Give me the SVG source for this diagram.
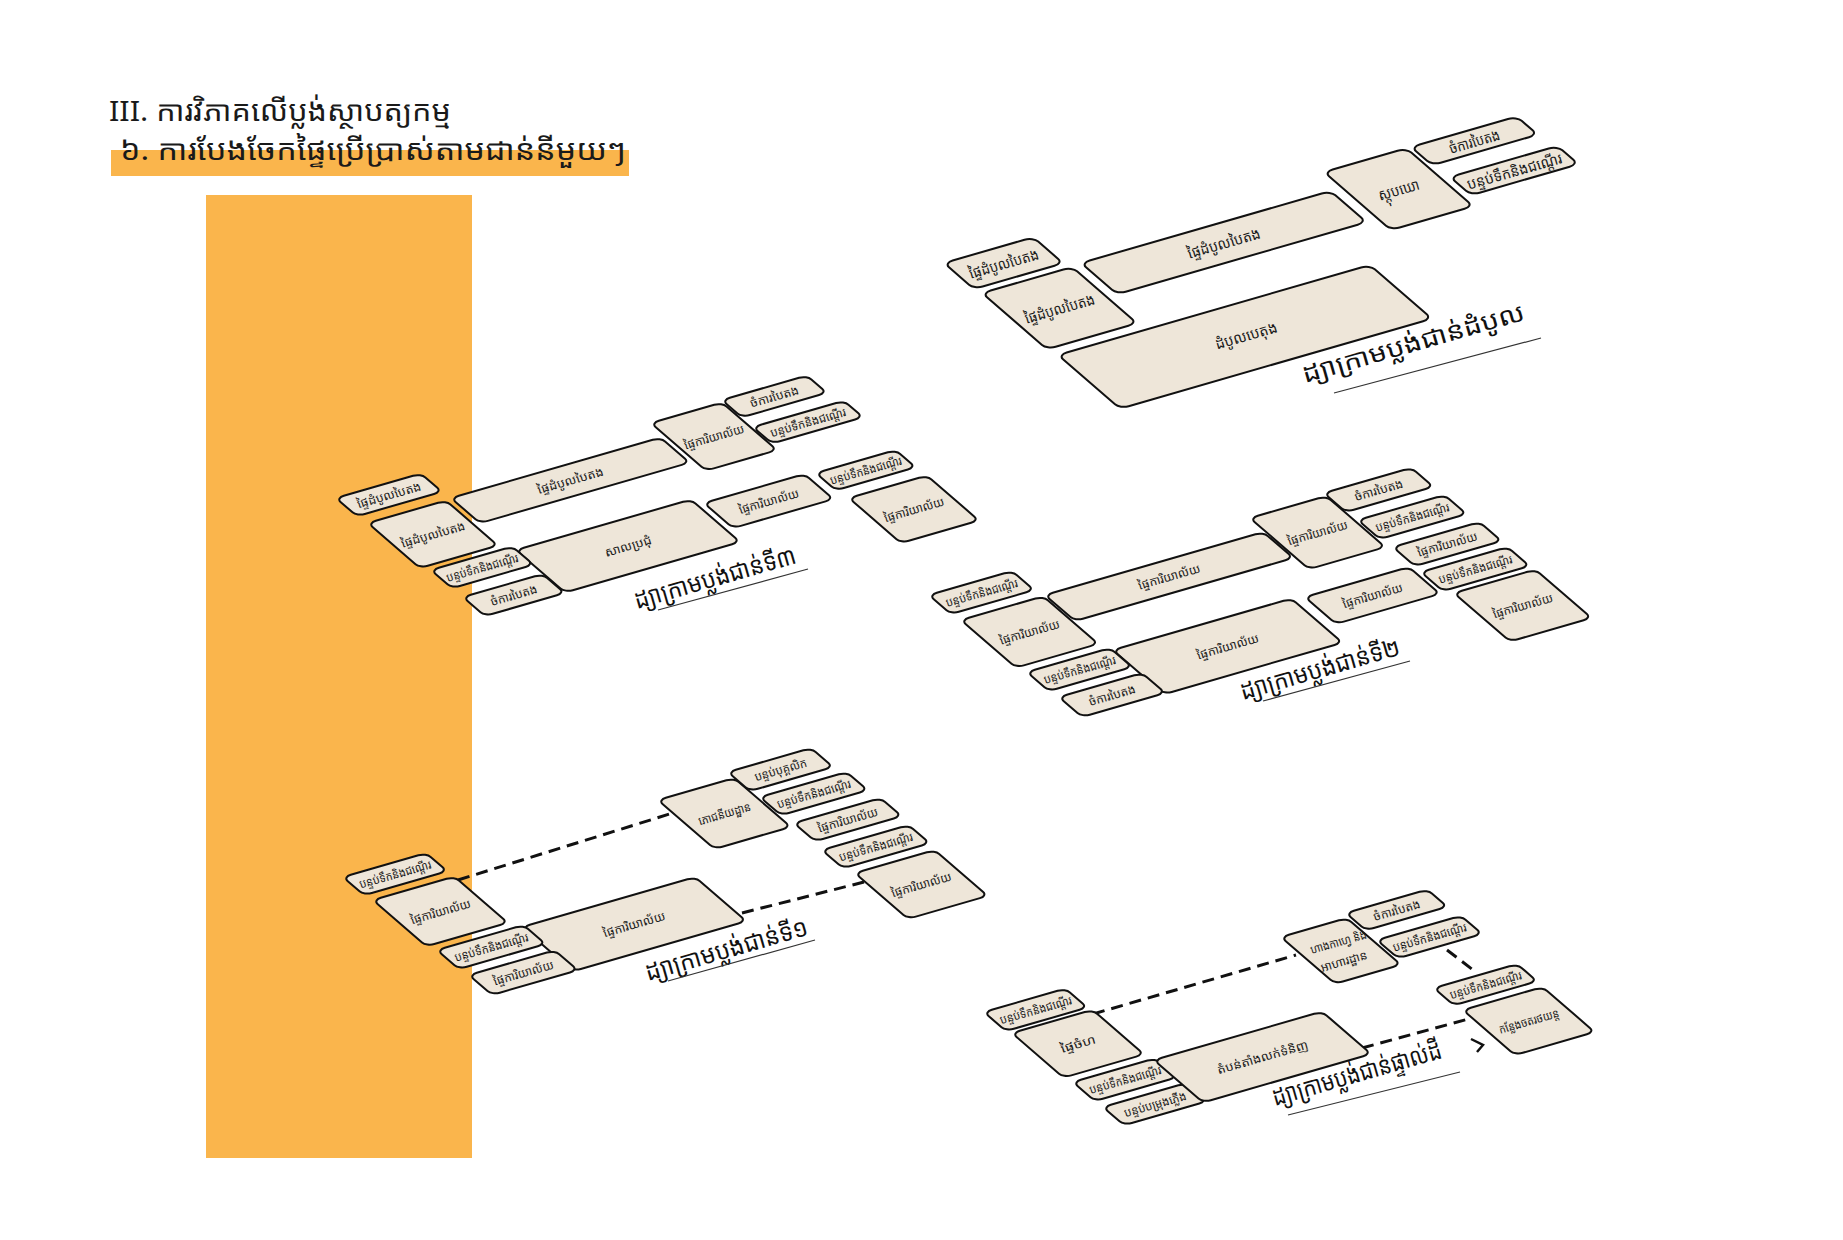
<svg xmlns="http://www.w3.org/2000/svg" width="1843" height="1240" viewBox="0 0 1843 1240">
<style>
.box{fill:#EEE6D9;stroke:#111;stroke-width:2;vector-effect:non-scaling-stroke}
.lbl{font-family:'Noto Sans Khmer','Noto Serif Khmer','Khmer OS Battambang','Khmer OS','Noto Sans',sans-serif;font-size:12px;fill:#1a1a1a;text-anchor:middle;dominant-baseline:central}
.big{font-size:15px}
.flr{font-family:'Noto Sans Khmer','Noto Serif Khmer','Khmer OS Battambang','Khmer OS','Noto Sans',sans-serif;font-size:25px;fill:#111}
.ttl{font-family:'Noto Sans Khmer','Noto Serif Khmer','Khmer OS Battambang','Khmer OS','Noto Sans',sans-serif;font-size:28px;fill:#1a1a1a}
.ul{stroke:#333;stroke-width:1.2;fill:none}
.dash{stroke:#111;stroke-width:3;stroke-dasharray:12 7;fill:none}
</style>
<rect width="1843" height="1240" fill="#fff"/>
<rect id="band" x="206" y="195" width="266" height="963" fill="#FAB54C"/>
<g id="title">
<rect x="111" y="150" width="518" height="26" fill="#FAB54C"/>
<text class="ttl" x="109" y="121" textLength="342" lengthAdjust="spacingAndGlyphs">III. ការវិភាគលើប្លង់ស្ថាបត្យកម្ម</text>
<text class="ttl" x="120" y="160" textLength="506" lengthAdjust="spacingAndGlyphs">៦. ការបែងចែកផ្ទៃប្រើប្រាស់តាមជាន់នីមួយៗ</text>
</g>

<!-- ROOF -->
<g id="roof">
<g id="r1"><rect class="box" width="103" height="60" rx="10" transform="matrix(0.866 -0.25 0.5 0.433 944 263)"/><text class="lbl big" transform="translate(1003.6 263.1) rotate(-16)" textLength="72" lengthAdjust="spacingAndGlyphs">ផ្ទៃដំបូលបៃតង</text></g>
<g id="r2"><rect class="box" width="104" height="130" rx="10" transform="matrix(0.866 -0.25 0.5 0.433 982 293)"/><text class="lbl big" transform="translate(1059.5 308.1) rotate(-16)" textLength="72" lengthAdjust="spacingAndGlyphs">ផ្ទៃដំបូលបៃតង</text></g>
<g id="r3"><rect class="box" width="288" height="72" rx="10" transform="matrix(0.866 -0.25 0.5 0.433 1081 263)"/><text class="lbl big" transform="translate(1223.7 242.6) rotate(-16)" textLength="75" lengthAdjust="spacingAndGlyphs">ផ្ទៃដំបូលបៃតង</text></g>
<g id="r4"><rect class="box" width="360" height="124" rx="10" transform="matrix(0.866 -0.25 0.5 0.433 1058 355)"/><text class="lbl big" transform="translate(1246 335) rotate(-16)" textLength="64" lengthAdjust="spacingAndGlyphs">ដំបូលបេតុង</text></g>
<g id="r5"><rect class="box" width="95" height="134" rx="10" transform="matrix(0.866 -0.25 0.5 0.433 1324 172)"/><text class="lbl big" transform="translate(1398.6 189.1) rotate(-16)" textLength="42" lengthAdjust="spacingAndGlyphs">ស្តុបឃោ</text></g>
<g id="r6"><rect class="box" width="122" height="42" rx="10" transform="matrix(0.866 -0.25 0.5 0.433 1411 147)"/><text class="lbl big" transform="translate(1474.3 140.9) rotate(-16)" textLength="52" lengthAdjust="spacingAndGlyphs">ចំការបៃតង</text></g>
<g id="r7"><rect class="box" width="124" height="42" rx="10" transform="matrix(0.866 -0.25 0.5 0.433 1450 177)"/><text class="lbl big" transform="translate(1514.2 170.6) rotate(-16)" textLength="98" lengthAdjust="spacingAndGlyphs">បន្ទប់ទឹកនិងជណ្ដើរ</text></g>
<g id="roof-label"><text class="flr" font-size="29" transform="translate(1305 383) rotate(-16)" textLength="230" lengthAdjust="spacingAndGlyphs">ដ្យាក្រាមប្លង់ជាន់ដំបូល</text><line class="ul" x1="1334" y1="393" x2="1541" y2="338"/></g>
</g>

<!-- 3RD FLOOR -->
<g id="f3">
<g id="f3a"><rect class="box" width="98" height="42" rx="9" transform="matrix(0.866 -0.25 0.5 0.433 336 498)"/><text class="lbl" transform="translate(388.9 494.9) rotate(-16)" textLength="66" lengthAdjust="spacingAndGlyphs">ផ្ទៃដំបូលបៃតង</text></g>
<g id="f3b"><rect class="box" width="90" height="104" rx="9" transform="matrix(0.866 -0.25 0.5 0.433 368 523)"/><text class="lbl" transform="translate(433 534.3) rotate(-16)" textLength="66" lengthAdjust="spacingAndGlyphs">ផ្ទៃដំបូលបៃតង</text></g>
<g id="f3c"><rect class="box" width="242" height="58" rx="9" transform="matrix(0.866 -0.25 0.5 0.433 451 498)"/><text class="lbl" transform="translate(570.3 480.3) rotate(-16)" textLength="68" lengthAdjust="spacingAndGlyphs">ផ្ទៃដំបូលបៃតង</text></g>
<g id="f3d"><rect class="box" width="82" height="110" rx="9" transform="matrix(0.866 -0.25 0.5 0.433 651 423)"/><text class="lbl" transform="translate(714 436.6) rotate(-16)" textLength="62" lengthAdjust="spacingAndGlyphs">ផ្ទៃការិយាល័យ</text></g>
<g id="f3e"><rect class="box" width="98" height="40" rx="9" transform="matrix(0.866 -0.25 0.5 0.433 722 400)"/><text class="lbl" transform="translate(774.4 396.4) rotate(-16)" textLength="50" lengthAdjust="spacingAndGlyphs">ចំការបៃតង</text></g>
<g id="f3f"><rect class="box" width="105" height="38" rx="9" transform="matrix(0.866 -0.25 0.5 0.433 753 427)"/><text class="lbl" transform="translate(808 422.1) rotate(-16)" textLength="78" lengthAdjust="spacingAndGlyphs">បន្ទប់ទឹកនិងជណ្ដើរ</text></g>
<g id="f3g"><rect class="box" width="202" height="98" rx="9" transform="matrix(0.866 -0.25 0.5 0.433 516 550)"/><text class="lbl" transform="translate(628 546) rotate(-16)" textLength="48" lengthAdjust="spacingAndGlyphs">សាលប្រជុំ</text></g>
<g id="f3h"><rect class="box" width="116" height="58" rx="9" transform="matrix(0.866 -0.25 0.5 0.433 704 503)"/><text class="lbl" transform="translate(768.7 501.1) rotate(-16)" textLength="62" lengthAdjust="spacingAndGlyphs">ផ្ទៃការិយាល័យ</text></g>
<g id="f3i"><rect class="box" width="92" height="40" rx="9" transform="matrix(0.866 -0.25 0.5 0.433 816 473)"/><text class="lbl" transform="translate(865.8 470.2) rotate(-16)" textLength="74" lengthAdjust="spacingAndGlyphs">បន្ទប់ទឹកនិងជណ្ដើរ</text></g>
<g id="f3j"><rect class="box" width="90" height="104" rx="9" transform="matrix(0.866 -0.25 0.5 0.433 849 498)"/><text class="lbl" transform="translate(914 509.3) rotate(-16)" textLength="62" lengthAdjust="spacingAndGlyphs">ផ្ទៃការិយាល័យ</text></g>
<g id="f3k"><rect class="box" width="94" height="42" rx="9" transform="matrix(0.866 -0.25 0.5 0.433 431 570)"/><text class="lbl" transform="translate(482.2 567.4) rotate(-16)" textLength="74" lengthAdjust="spacingAndGlyphs">បន្ទប់ទឹកនិងជណ្ដើរ</text></g>
<g id="f3l"><rect class="box" width="92" height="44" rx="9" transform="matrix(0.866 -0.25 0.5 0.433 463 597)"/><text class="lbl" transform="translate(513.8 595) rotate(-16)" textLength="48" lengthAdjust="spacingAndGlyphs">ចំការបៃតង</text></g>
<g id="f3-label"><text class="flr" transform="translate(637 609) rotate(-16)" textLength="167" lengthAdjust="spacingAndGlyphs">ដ្យាក្រាមប្លង់ជាន់ទី៣</text><line class="ul" x1="658" y1="610" x2="808" y2="569"/></g>
</g>

<!-- 2ND FLOOR -->
<g id="f2">
<g id="f2a"><rect class="box" width="96" height="44" rx="9" transform="matrix(0.866 -0.25 0.5 0.433 929 595)"/><text class="lbl" transform="translate(981.6 592.5) rotate(-16)" textLength="74" lengthAdjust="spacingAndGlyphs">បន្ទប់ទឹកនិងជណ្ដើរ</text></g>
<g id="f2b"><rect class="box" width="95" height="110" rx="9" transform="matrix(0.866 -0.25 0.5 0.433 961 620)"/><text class="lbl" transform="translate(1029.6 631.9) rotate(-16)" textLength="62" lengthAdjust="spacingAndGlyphs">ផ្ទៃការិយាល័យ</text></g>
<g id="f2c"><rect class="box" width="252" height="60" rx="9" transform="matrix(0.866 -0.25 0.5 0.433 1045 595)"/><text class="lbl" transform="translate(1169.1 576.5) rotate(-16)" textLength="64" lengthAdjust="spacingAndGlyphs">ផ្ទៃការិយាល័យ</text></g>
<g id="f2d"><rect class="box" width="88" height="118" rx="9" transform="matrix(0.866 -0.25 0.5 0.433 1250 518)"/><text class="lbl" transform="translate(1317.6 532.5) rotate(-16)" textLength="62" lengthAdjust="spacingAndGlyphs">ផ្ទៃការិយាល័យ</text></g>
<g id="f2e"><rect class="box" width="101" height="44" rx="9" transform="matrix(0.866 -0.25 0.5 0.433 1324 493)"/><text class="lbl" transform="translate(1378.7 489.9) rotate(-16)" textLength="50" lengthAdjust="spacingAndGlyphs">ចំការបៃតង</text></g>
<g id="f2f"><rect class="box" width="100" height="44" rx="9" transform="matrix(0.866 -0.25 0.5 0.433 1358 520)"/><text class="lbl" transform="translate(1412.3 517) rotate(-16)" textLength="76" lengthAdjust="spacingAndGlyphs">បន្ទប់ទឹកនិងជណ្ដើរ</text></g>
<g id="f2g"><rect class="box" width="100" height="44" rx="9" transform="matrix(0.866 -0.25 0.5 0.433 1393 547)"/><text class="lbl" transform="translate(1447.3 544) rotate(-16)" textLength="62" lengthAdjust="spacingAndGlyphs">ផ្ទៃការិយាល័យ</text></g>
<g id="f2h"><rect class="box" width="100" height="44" rx="9" transform="matrix(0.866 -0.25 0.5 0.433 1421 572)"/><text class="lbl" transform="translate(1475.3 569) rotate(-16)" textLength="76" lengthAdjust="spacingAndGlyphs">បន្ទប់ទឹកនិងជណ្ដើរ</text></g>
<g id="f2i"><rect class="box" width="94" height="112" rx="9" transform="matrix(0.866 -0.25 0.5 0.433 1454 593)"/><text class="lbl" transform="translate(1522.7 605.5) rotate(-16)" textLength="62" lengthAdjust="spacingAndGlyphs">ផ្ទៃការិយាល័យ</text></g>
<g id="f2j"><rect class="box" width="120" height="62" rx="9" transform="matrix(0.866 -0.25 0.5 0.433 1305 597)"/><text class="lbl" transform="translate(1372.5 595.4) rotate(-16)" textLength="62" lengthAdjust="spacingAndGlyphs">ផ្ទៃការិយាល័យ</text></g>
<g id="f2k"><rect class="box" width="206" height="102" rx="9" transform="matrix(0.866 -0.25 0.5 0.433 1113 650)"/><text class="lbl" transform="translate(1227.7 646.3) rotate(-16)" textLength="64" lengthAdjust="spacingAndGlyphs">ផ្ទៃការិយាល័យ</text></g>
<g id="f2l"><rect class="box" width="96" height="44" rx="9" transform="matrix(0.866 -0.25 0.5 0.433 1027 672)"/><text class="lbl" transform="translate(1079.6 669.5) rotate(-16)" textLength="74" lengthAdjust="spacingAndGlyphs">បន្ទប់ទឹកនិងជណ្ដើរ</text></g>
<g id="f2m"><rect class="box" width="96" height="46" rx="9" transform="matrix(0.866 -0.25 0.5 0.433 1059 697)"/><text class="lbl" transform="translate(1112.1 695) rotate(-16)" textLength="48" lengthAdjust="spacingAndGlyphs">ចំការបៃតង</text></g>
<g id="f2-label"><text class="flr" transform="translate(1243 700) rotate(-16)" textLength="165" lengthAdjust="spacingAndGlyphs">ដ្យាក្រាមប្លង់ជាន់ទី២</text><line class="ul" x1="1263" y1="701" x2="1410" y2="661"/></g>
</g>

<!-- 1ST FLOOR -->
<g id="f1">
<g id="f1-connectors"><line class="dash" x1="458" y1="880" x2="676" y2="812"/><line class="dash" x1="742" y1="913" x2="864" y2="882"/></g>
<g id="f1a"><rect class="box" width="96" height="42" rx="9" transform="matrix(0.866 -0.25 0.5 0.433 343 877)"/><text class="lbl" transform="translate(395.1 874.1) rotate(-16)" textLength="74" lengthAdjust="spacingAndGlyphs">បន្ទប់ទឹកនិងជណ្ដើរ</text></g>
<g id="f1b"><rect class="box" width="94" height="107" rx="9" transform="matrix(0.866 -0.25 0.5 0.433 373 900)"/><text class="lbl" transform="translate(440.5 911.4) rotate(-16)" textLength="62" lengthAdjust="spacingAndGlyphs">ផ្ទៃការិយាល័យ</text></g>
<g id="f1c"><rect class="box" width="200" height="102" rx="9" transform="matrix(0.866 -0.25 0.5 0.433 522 927)"/><text class="lbl" transform="translate(634.1 924.1) rotate(-16)" textLength="64" lengthAdjust="spacingAndGlyphs">ផ្ទៃការិយាល័យ</text></g>
<g id="f1d"><rect class="box" width="100" height="44" rx="9" transform="matrix(0.866 -0.25 0.5 0.433 437 950)"/><text class="lbl" transform="translate(491.3 947) rotate(-16)" textLength="76" lengthAdjust="spacingAndGlyphs">បន្ទប់ទឹកនិងជណ្ដើរ</text></g>
<g id="f1e"><rect class="box" width="99" height="46" rx="9" transform="matrix(0.866 -0.25 0.5 0.433 469 975)"/><text class="lbl" transform="translate(523.4 972.6) rotate(-16)" textLength="62" lengthAdjust="spacingAndGlyphs">ផ្ទៃការិយាល័យ</text></g>
<g id="f1f"><rect class="box" width="88" height="113" rx="9" transform="matrix(0.866 -0.25 0.5 0.433 658 800)"/><text class="lbl" transform="translate(724.4 813.5) rotate(-16)" textLength="54" lengthAdjust="spacingAndGlyphs">ភោជនីយដ្ឋាន</text></g>
<g id="f1g"><rect class="box" width="96" height="44" rx="9" transform="matrix(0.866 -0.25 0.5 0.433 728 772)"/><text class="lbl" transform="translate(780.6 769.5) rotate(-16)" textLength="54" lengthAdjust="spacingAndGlyphs">បន្ទប់បុគ្គលិក</text></g>
<g id="f1h"><rect class="box" width="100" height="42" rx="9" transform="matrix(0.866 -0.25 0.5 0.433 760 797)"/><text class="lbl" transform="translate(813.8 793.6) rotate(-16)" textLength="76" lengthAdjust="spacingAndGlyphs">បន្ទប់ទឹកនិងជណ្ដើរ</text></g>
<g id="f1i"><rect class="box" width="100" height="42" rx="9" transform="matrix(0.866 -0.25 0.5 0.433 794 823)"/><text class="lbl" transform="translate(847.8 819.6) rotate(-16)" textLength="62" lengthAdjust="spacingAndGlyphs">ផ្ទៃការិយាល័យ</text></g>
<g id="f1j"><rect class="box" width="100" height="42" rx="9" transform="matrix(0.866 -0.25 0.5 0.433 822 850)"/><text class="lbl" transform="translate(875.8 846.6) rotate(-16)" textLength="76" lengthAdjust="spacingAndGlyphs">បន្ទប់ទឹកនិងជណ្ដើរ</text></g>
<g id="f1k"><rect class="box" width="92" height="106" rx="9" transform="matrix(0.866 -0.25 0.5 0.433 855 873)"/><text class="lbl" transform="translate(921.3 884.4) rotate(-16)" textLength="62" lengthAdjust="spacingAndGlyphs">ផ្ទៃការិយាល័យ</text></g>
<g id="f1-label"><text class="flr" transform="translate(648 981) rotate(-16)" textLength="168" lengthAdjust="spacingAndGlyphs">ដ្យាក្រាមប្លង់ជាន់ទី១</text><line class="ul" x1="668" y1="981" x2="815" y2="940"/></g>
</g>

<!-- GROUND FLOOR -->
<g id="f0">
<g id="f0-connectors"><line class="dash" x1="1093" y1="1014" x2="1296" y2="955"/><line class="dash" x1="1362" y1="1048" x2="1472" y2="1018"/><line class="dash" x1="1447" y1="950" x2="1477" y2="973"/><polyline points="1471,1039 1483,1045 1477,1052" fill="none" stroke="#111" stroke-width="2.5"/></g>
<g id="f0a"><rect class="box" width="94" height="44" rx="9" transform="matrix(0.866 -0.25 0.5 0.433 984 1012)"/><text class="lbl" transform="translate(1035.7 1009.8) rotate(-16)" textLength="74" lengthAdjust="spacingAndGlyphs">បន្ទប់ទឹកនិងជណ្ដើរ</text></g>
<g id="f0b"><rect class="box" width="93" height="103" rx="9" transform="matrix(0.866 -0.25 0.5 0.433 1012 1033)"/><text class="lbl" transform="translate(1078 1043.7) rotate(-16)" textLength="36" lengthAdjust="spacingAndGlyphs">ផ្ទៃចំហ</text></g>
<g id="f0c"><rect class="box" width="95" height="44" rx="9" transform="matrix(0.866 -0.25 0.5 0.433 1073 1082)"/><text class="lbl" transform="translate(1125.1 1079.6) rotate(-16)" textLength="74" lengthAdjust="spacingAndGlyphs">បន្ទប់ទឹកនិងជណ្ដើរ</text></g>
<g id="f0d"><rect class="box" width="96" height="42" rx="9" transform="matrix(0.866 -0.25 0.5 0.433 1103 1107)"/><text class="lbl" transform="translate(1155.1 1104.1) rotate(-16)" textLength="64" lengthAdjust="spacingAndGlyphs">បន្ទប់បម្រុងភ្លើង</text></g>
<g id="f0e"><rect class="box" width="194" height="98" rx="9" transform="matrix(0.866 -0.25 0.5 0.433 1154 1060)"/><text class="lbl" transform="translate(1262.5 1057) rotate(-16)" textLength="94" lengthAdjust="spacingAndGlyphs">តំបន់តាំងលក់ទំនិញ</text></g>
<g id="f0f"><rect class="box" width="76" height="108" rx="9" transform="matrix(0.866 -0.25 0.5 0.433 1281 937)"/><text class="lbl" transform="translate(1340.9 950.9) rotate(-16)"><tspan x="0" y="-10" textLength="58" lengthAdjust="spacingAndGlyphs">ហាងកាហ្វេ និង</tspan><tspan x="0" y="10" textLength="48" lengthAdjust="spacingAndGlyphs">អាហារដ្ឋាន</tspan></text></g>
<g id="f0g"><rect class="box" width="94" height="40" rx="9" transform="matrix(0.866 -0.25 0.5 0.433 1346 913)"/><text class="lbl" transform="translate(1396.7 910) rotate(-16)" textLength="48" lengthAdjust="spacingAndGlyphs">ចំការបៃតង</text></g>
<g id="f0h"><rect class="box" width="97" height="42" rx="9" transform="matrix(0.866 -0.25 0.5 0.433 1377 940)"/><text class="lbl" transform="translate(1429.5 937) rotate(-16)" textLength="76" lengthAdjust="spacingAndGlyphs">បន្ទប់ទឹកនិងជណ្ដើរ</text></g>
<g id="f0i"><rect class="box" width="96" height="40" rx="9" transform="matrix(0.866 -0.25 0.5 0.433 1434 988)"/><text class="lbl" transform="translate(1485.6 984.7) rotate(-16)" textLength="74" lengthAdjust="spacingAndGlyphs">បន្ទប់ទឹកនិងជណ្ដើរ</text></g>
<g id="f0j"><rect class="box" width="92" height="104" rx="9" transform="matrix(0.866 -0.25 0.5 0.433 1463 1010)"/><text class="lbl" transform="translate(1528.8 1021) rotate(-16)" textLength="62" lengthAdjust="spacingAndGlyphs">កន្លែងចតរថយន្ត</text></g>
<g id="f0-label"><text class="flr" font-size="24" transform="translate(1275 1106) rotate(-16)" textLength="175" lengthAdjust="spacingAndGlyphs">ដ្យាក្រាមប្លង់ជាន់ផ្ទាល់ដី</text><line class="ul" x1="1288" y1="1115" x2="1460" y2="1072"/></g>
</g>
</svg>
